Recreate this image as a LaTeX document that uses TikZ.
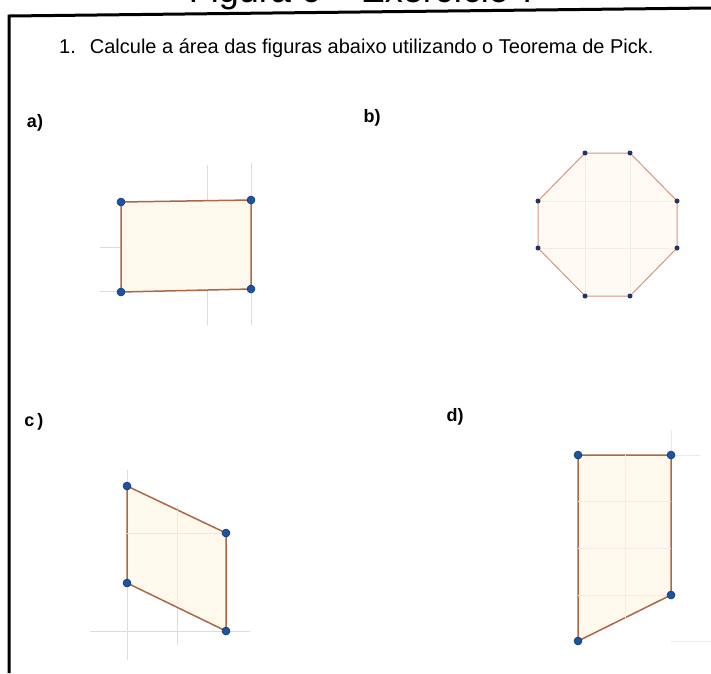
\documentclass[tikz,border=0pt]{standalone}
\usepackage{fontspec}
\setmainfont{Liberation Sans}
\definecolor{edgebrown}{RGB}{172,104,70}
\definecolor{edgelight}{RGB}{214,150,128}
\definecolor{fillcream}{RGB}{255,248,236}
\definecolor{dotblue}{RGB}{28,84,165}
\definecolor{dotnavy}{RGB}{32,52,104}
\definecolor{gridpink}{RGB}{238,214,214}

\begin{document}
\begin{tikzpicture}[x=1pt, y=-1pt,
  partlbl/.style={font=\bfseries\fontsize{18}{18}\selectfont, inner sep=0pt},
  poly/.style={draw=edgebrown, line width=1.5pt, fill=fillcream, line join=round},
  polylight/.style={draw=edgelight, line width=1pt, fill=fillcream!60, line join=round},
  gridline/.style={draw=gridpink, line width=0.6pt},
  pt/.style={circle, fill=dotblue, draw=dotblue!60!black, line width=0.5pt, inner sep=0pt, minimum size=8pt},
  ptsmall/.style={circle, fill=dotnavy, inner sep=0pt, minimum size=5pt}
]
\useasboundingbox (0,0) rectangle (711,673);
\fill[white] (0,0) rectangle (711,673);

% cut-off caption at the top
\begin{scope}
\clip (0,0) rectangle (711,673);
\node[anchor=base, font=\fontsize{36}{36}\selectfont, inner sep=0pt] (caption) at (364,2) {Figura 6 -- Exercício 7};
\end{scope}

% frame
\draw[line width=3pt] (9,673) -- (9,16) -- (711,8);

\node[anchor=base west, font=\fontsize{20}{20}\selectfont, inner sep=0pt] (task) at (59,53)
  {1.\hspace{14pt}Calcule a área das figuras abaixo utilizando o Teorema de Pick.};

\node[partlbl] (la) at (35,123) {a)};
\node[partlbl] (lb) at (372,118) {b)};
\node[partlbl] (lc) at (34,422) {c\,)};
\node[partlbl] (ld) at (455,417) {d)};

% a) rectangle
\coordinate (a1) at (121,202);
\coordinate (a2) at (251,200);
\coordinate (a3) at (251,289);
\coordinate (a4) at (121,292);
\draw[gridline] (164,202) -- (164,291);
\draw[gridline] (207,165) -- (207,325);
\draw[gridline] (251,163) -- (251,325);
\draw[gridline] (100,247) -- (251,247);
\draw[gridline] (100,291) -- (121,291);
\draw[poly] (a1) -- (a2) -- (a3) -- (a4) -- cycle;
\node[pt] (pa1) at (a1) {};
\node[pt] (pa2) at (a2) {};
\node[pt] (pa3) at (a3) {};
\node[pt] (pa4) at (a4) {};

% b) octagon
\coordinate (b1) at (585,153);
\coordinate (b2) at (630,153);
\coordinate (b3) at (677,201);
\coordinate (b4) at (677,248);
\coordinate (b5) at (630,296);
\coordinate (b6) at (585,296);
\coordinate (b7) at (538,248);
\coordinate (b8) at (538,201);
\draw[polylight] (b1) -- (b2) -- (b3) -- (b4) -- (b5) -- (b6) -- (b7) -- (b8) -- cycle;
\draw[gridline, draw=gridpink!50] (585,153) -- (585,296) (630,153) -- (630,296)
  (538,201) -- (677,201) (538,248) -- (677,248);
\node[ptsmall] (pb1) at (b1) {};
\node[ptsmall] (pb2) at (b2) {};
\node[ptsmall] (pb3) at (b3) {};
\node[ptsmall] (pb4) at (b4) {};
\node[ptsmall] (pb5) at (b5) {};
\node[ptsmall] (pb6) at (b6) {};
\node[ptsmall] (pb7) at (b7) {};
\node[ptsmall] (pb8) at (b8) {};

% c) parallelogram
\coordinate (c1) at (127,486);
\coordinate (c2) at (226,533);
\coordinate (c3) at (226,631);
\coordinate (c4) at (127,583);
\draw[gridline] (127,470) -- (127,660);
\draw[gridline] (177,505) -- (177,645);
\draw[gridline] (90,631) -- (250,631);
\draw[poly] (c1) -- (c2) -- (c3) -- (c4) -- cycle;
\draw[gridline, draw=gridpink!60] (127,533) -- (226,533) (177,510) -- (177,605);
\node[pt] (pc1) at (c1) {};
\node[pt] (pc2) at (c2) {};
\node[pt] (pc3) at (c3) {};
\node[pt] (pc4) at (c4) {};

% d) trapezoid
\coordinate (d1) at (578,455);
\coordinate (d2) at (671,455);
\coordinate (d3) at (671,595);
\coordinate (d4) at (578,641);
\draw[gridline, draw=gridpink!60] (671,430) -- (671,455);
\draw[gridline, draw=gridpink!60] (671,455) -- (700,455);
\draw[gridline, draw=gridpink!60] (671,641) -- (711,641);
\draw[poly] (d1) -- (d2) -- (d3) -- (d4) -- cycle;
\draw[gridline, draw=gridpink!50] (625,455) -- (625,618) (578,501) -- (671,501)
  (578,548) -- (671,548) (578,595) -- (671,595);
\node[pt] (pd1) at (d1) {};
\node[pt] (pd2) at (d2) {};
\node[pt] (pd3) at (d3) {};
\node[pt] (pd4) at (d4) {};
\end{tikzpicture}
\end{document}
